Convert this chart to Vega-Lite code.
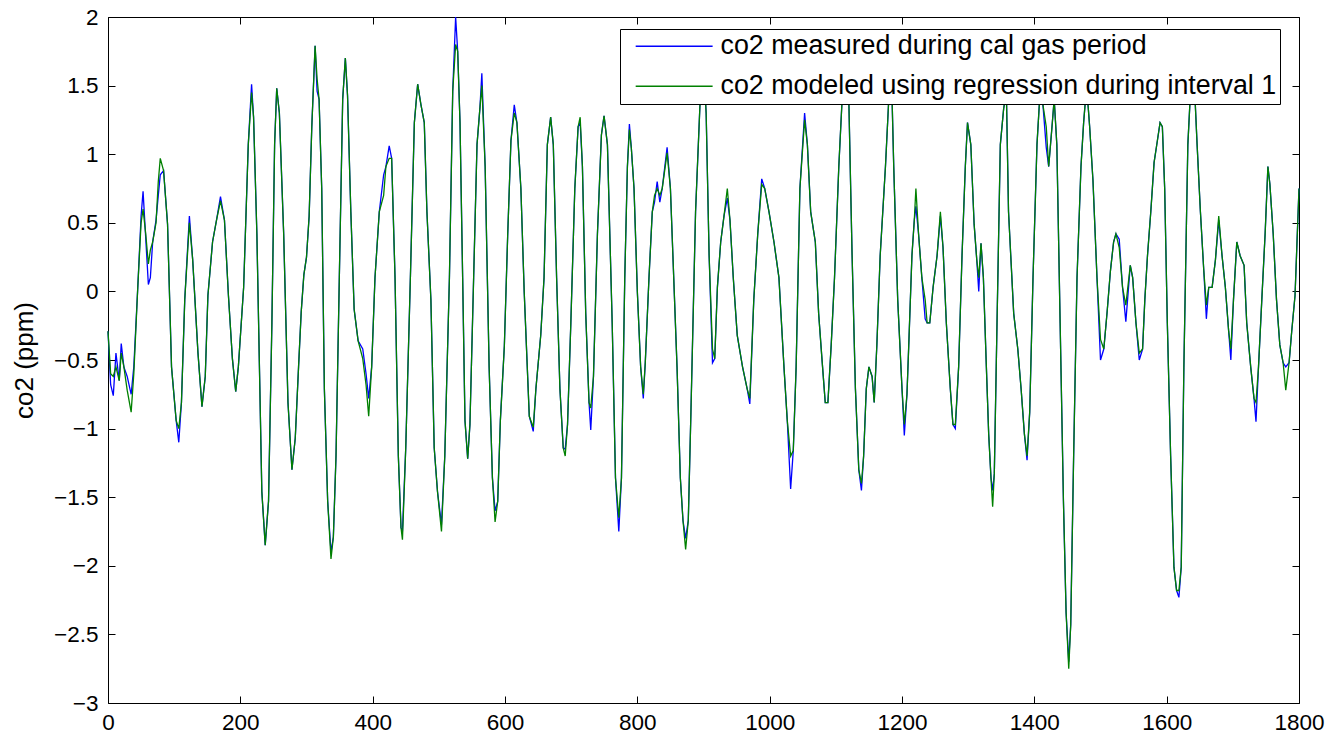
{
"$schema": "https://vega.github.io/schema/vega-lite/v6.json",
"width": 1191, "height": 686,
"autosize": {"type": "none"},
"padding": {"left": 108, "top": 17, "right": 45, "bottom": 41},
"background": "white",
"config": {"view": {"stroke": "#000", "strokeWidth": 1}, "font": "Liberation Sans",
  "axis": {"grid": false, "labelFont": "Liberation Sans", "labelFontSize": 22.5, "labelColor": "#000", "labelFlush": false, "labelOverlap": false, "tickColor": "#000", "tickSize": 7, "tickWidth": 1, "offset": -7, "domain": false, "titleFont": "Liberation Sans", "titleFontSize": 26, "titleFontWeight": "normal", "titleColor": "#000", "format": "~f"}},
"data": {"values": [
{"x":0,"m":-0.29,"g":-0.29},{"x":4,"m":-0.68,"g":-0.6},{"x":8,"m":-0.76,"g":-0.62},{"x":12,"m":-0.45,"g":-0.55},{"x":17,"m":-0.65,"g":-0.65},{"x":20,"m":-0.38,"g":-0.45},{"x":24,"m":-0.55,"g":-0.55},{"x":29,"m":-0.62,"g":-0.72},{"x":35,"m":-0.75,"g":-0.88},{"x":39,"m":-0.55,"g":-0.6},{"x":45,"m":0.03,"g":0.03},{"x":50,"m":0.55,"g":0.5},{"x":53,"m":0.73,"g":0.6},{"x":57,"m":0.39,"g":0.42},{"x":61,"m":0.05,"g":0.2},{"x":64,"m":0.1,"g":0.3},{"x":67.5,"m":0.36,"g":0.36},{"x":72.6,"m":0.52,"g":0.5},{"x":76,"m":0.7,"g":0.8},{"x":79,"m":0.85,"g":0.97},{"x":84,"m":0.88,"g":0.88},{"x":90,"m":0.49,"g":0.49},{"x":96,"m":-0.55,"g":-0.55},{"x":103,"m":-0.94,"g":-0.94},{"x":107,"m":-1.1,"g":-1.0},{"x":111,"m":-0.81,"g":-0.81},{"x":116,"m":-0.06,"g":-0.06},{"x":123,"m":0.55,"g":0.5},{"x":128,"m":0.23,"g":0.23},{"x":136,"m":-0.45,"g":-0.45},{"x":142,"m":-0.84,"g":-0.84},{"x":147,"m":-0.62,"g":-0.62},{"x":151,"m":-0.03,"g":-0.03},{"x":158,"m":0.36,"g":0.36},{"x":164,"m":0.52,"g":0.52},{"x":170,"m":0.69,"g":0.66},{"x":176,"m":0.52,"g":0.52},{"x":182,"m":-0.03,"g":-0.03},{"x":188,"m":-0.49,"g":-0.49},{"x":193,"m":-0.73,"g":-0.73},{"x":197,"m":-0.55,"g":-0.55},{"x":205,"m":0.03,"g":0.03},{"x":212,"m":1.07,"g":1.07},{"x":217,"m":1.51,"g":1.45},{"x":220,"m":1.27,"g":1.27},{"x":225,"m":0.42,"g":0.42},{"x":232.5,"m":-1.46,"g":-1.46},{"x":237.6,"m":-1.85,"g":-1.85},{"x":242.6,"m":-1.53,"g":-1.53},{"x":247.7,"m":-0.23,"g":-0.23},{"x":251.8,"m":1.07,"g":1.07},{"x":255,"m":1.48,"g":1.48},{"x":259,"m":1.3,"g":1.3},{"x":265.5,"m":0.42,"g":0.42},{"x":272,"m":-0.81,"g":-0.81},{"x":278,"m":-1.3,"g":-1.3},{"x":283,"m":-1.07,"g":-1.07},{"x":288,"m":-0.55,"g":-0.55},{"x":292,"m":-0.15,"g":-0.15},{"x":296,"m":0.12,"g":0.12},{"x":300,"m":0.25,"g":0.25},{"x":304,"m":0.55,"g":0.55},{"x":308,"m":1.2,"g":1.2},{"x":313,"m":1.79,"g":1.79},{"x":316,"m":1.46,"g":1.55},{"x":319,"m":1.4,"g":1.4},{"x":323,"m":0.75,"g":0.75},{"x":327,"m":-0.71,"g":-0.71},{"x":332,"m":-1.53,"g":-1.53},{"x":337,"m":-1.9,"g":-1.95},{"x":340.6,"m":-1.79,"g":-1.79},{"x":344.6,"m":-1.2,"g":-1.2},{"x":349.6,"m":0.1,"g":0.1},{"x":354.7,"m":1.4,"g":1.4},{"x":358.7,"m":1.7,"g":1.7},{"x":362,"m":1.43,"g":1.43},{"x":367,"m":0.58,"g":0.58},{"x":372,"m":-0.13,"g":-0.13},{"x":378,"m":-0.36,"g":-0.36},{"x":385,"m":-0.42,"g":-0.49},{"x":390,"m":-0.6,"g":-0.68},{"x":394,"m":-0.78,"g":-0.91},{"x":398.5,"m":-0.55,"g":-0.55},{"x":403.5,"m":0.1,"g":0.1},{"x":410,"m":0.58,"g":0.58},{"x":416.6,"m":0.85,"g":0.7},{"x":420,"m":0.91,"g":0.91},{"x":425,"m":1.06,"g":0.97},{"x":428.7,"m":0.97,"g":0.97},{"x":433.8,"m":0.1,"g":0.1},{"x":438.8,"m":-1.2,"g":-1.2},{"x":442.8,"m":-1.72,"g":-1.72},{"x":445,"m":-1.75,"g":-1.81},{"x":450,"m":-1.14,"g":-1.14},{"x":457,"m":0.1,"g":0.1},{"x":463,"m":1.23,"g":1.23},{"x":468,"m":1.51,"g":1.51},{"x":473,"m":1.36,"g":1.36},{"x":478,"m":1.23,"g":1.23},{"x":482,"m":0.58,"g":0.58},{"x":488,"m":-0.06,"g":-0.06},{"x":493,"m":-1.14,"g":-1.14},{"x":498,"m":-1.46,"g":-1.46},{"x":504,"m":-1.7,"g":-1.75},{"x":509,"m":-1.2,"g":-1.2},{"x":516,"m":0.1,"g":0.1},{"x":521,"m":1.46,"g":1.46},{"x":525.4,"m":2.0,"g":1.8},{"x":528.5,"m":1.75,"g":1.75},{"x":532,"m":1.23,"g":1.23},{"x":536,"m":0.1,"g":0.1},{"x":539.5,"m":-0.94,"g":-0.94},{"x":543.6,"m":-1.22,"g":-1.22},{"x":547,"m":-0.97,"g":-0.97},{"x":552.6,"m":0.1,"g":0.1},{"x":557.7,"m":1.07,"g":1.07},{"x":562,"m":1.33,"g":1.33},{"x":565,"m":1.59,"g":1.5},{"x":570,"m":0.91,"g":0.91},{"x":576,"m":-0.55,"g":-0.55},{"x":581,"m":-1.36,"g":-1.36},{"x":585,"m":-1.6,"g":-1.68},{"x":589,"m":-1.53,"g":-1.53},{"x":593,"m":-0.94,"g":-0.94},{"x":599,"m":-0.4,"g":-0.4},{"x":604,"m":0.4,"g":0.4},{"x":609,"m":1.1,"g":1.1},{"x":614,"m":1.36,"g":1.3},{"x":618,"m":1.23,"g":1.23},{"x":624,"m":0.75,"g":0.75},{"x":629,"m":0.0,"g":0.0},{"x":636.7,"m":-0.91,"g":-0.91},{"x":642.7,"m":-1.02,"g":-0.99},{"x":646.7,"m":-0.71,"g":-0.71},{"x":654,"m":-0.32,"g":-0.32},{"x":659,"m":0.1,"g":0.1},{"x":664,"m":1.07,"g":1.07},{"x":669,"m":1.27,"g":1.27},{"x":673,"m":1.07,"g":1.07},{"x":678,"m":0.1,"g":0.1},{"x":683,"m":-0.71,"g":-0.71},{"x":688,"m":-1.14,"g":-1.14},{"x":691,"m":-1.15,"g":-1.2},{"x":694.5,"m":-0.97,"g":-0.97},{"x":699.5,"m":-0.23,"g":-0.23},{"x":705.5,"m":0.75,"g":0.75},{"x":710.5,"m":1.2,"g":1.2},{"x":713.6,"m":1.23,"g":1.27},{"x":717,"m":0.91,"g":0.91},{"x":722,"m":-0.16,"g":-0.16},{"x":727,"m":-0.81,"g":-0.81},{"x":729.6,"m":-1.01,"g":-0.85},{"x":733.7,"m":-0.62,"g":-0.62},{"x":739.7,"m":0.42,"g":0.42},{"x":745.7,"m":1.14,"g":1.14},{"x":749.7,"m":1.28,"g":1.28},{"x":754.8,"m":1.07,"g":1.07},{"x":762,"m":-0.23,"g":-0.23},{"x":767,"m":-1.36,"g":-1.36},{"x":772,"m":-1.75,"g":-1.65},{"x":776,"m":-1.36,"g":-1.36},{"x":781,"m":0.1,"g":0.1},{"x":785,"m":0.91,"g":0.91},{"x":788,"m":1.22,"g":1.18},{"x":791,"m":1.04,"g":1.04},{"x":795,"m":0.75,"g":0.75},{"x":800,"m":0.0,"g":0.0},{"x":805,"m":-0.55,"g":-0.55},{"x":809,"m":-0.78,"g":-0.75},{"x":812,"m":-0.52,"g":-0.52},{"x":817.6,"m":0.1,"g":0.1},{"x":822.6,"m":0.58,"g":0.58},{"x":826,"m":0.65,"g":0.7},{"x":830,"m":0.8,"g":0.75},{"x":834,"m":0.65,"g":0.7},{"x":837.6,"m":0.75,"g":0.75},{"x":845,"m":1.05,"g":1.01},{"x":850,"m":0.75,"g":0.75},{"x":855,"m":0.1,"g":0.1},{"x":860,"m":-0.55,"g":-0.55},{"x":865,"m":-1.36,"g":-1.36},{"x":869,"m":-1.67,"g":-1.67},{"x":873,"m":-1.8,"g":-1.88},{"x":877,"m":-1.67,"g":-1.67},{"x":881,"m":-0.88,"g":-0.88},{"x":888,"m":0.58,"g":0.58},{"x":895,"m":1.4,"g":1.4},{"x":900,"m":1.65,"g":1.65},{"x":904,"m":1.3,"g":1.3},{"x":908.5,"m":0.26,"g":0.26},{"x":913.6,"m":-0.52,"g":-0.42},{"x":917,"m":-0.49,"g":-0.49},{"x":921,"m":0.03,"g":0.03},{"x":926,"m":0.36,"g":0.36},{"x":931,"m":0.55,"g":0.55},{"x":936,"m":0.68,"g":0.75},{"x":940,"m":0.52,"g":0.52},{"x":945,"m":0.1,"g":0.1},{"x":951,"m":-0.32,"g":-0.32},{"x":959,"m":-0.55,"g":-0.55},{"x":966,"m":-0.71,"g":-0.71},{"x":970,"m":-0.82,"g":-0.78},{"x":976,"m":-0.06,"g":-0.06},{"x":982,"m":0.42,"g":0.42},{"x":988,"m":0.82,"g":0.78},{"x":992.5,"m":0.75,"g":0.75},{"x":999,"m":0.58,"g":0.58},{"x":1006.5,"m":0.36,"g":0.36},{"x":1014,"m":0.1,"g":0.1},{"x":1021.6,"m":-0.55,"g":-0.55},{"x":1026.6,"m":-0.94,"g":-0.94},{"x":1031.7,"m":-1.44,"g":-1.2},{"x":1035.7,"m":-1.16,"g":-1.16},{"x":1040,"m":-0.55,"g":-0.55},{"x":1045.7,"m":0.75,"g":0.75},{"x":1052.8,"m":1.3,"g":1.25},{"x":1057,"m":1.07,"g":1.07},{"x":1062,"m":0.58,"g":0.58},{"x":1069,"m":0.36,"g":0.36},{"x":1074,"m":-0.16,"g":-0.16},{"x":1079,"m":-0.49,"g":-0.49},{"x":1084,"m":-0.81,"g":-0.81},{"x":1088,"m":-0.81,"g":-0.81},{"x":1093,"m":-0.39,"g":-0.39},{"x":1098,"m":0.1,"g":0.1},{"x":1104.5,"m":0.91,"g":0.91},{"x":1109.5,"m":1.4,"g":1.4},{"x":1114,"m":1.7,"g":1.7},{"x":1119.6,"m":1.4,"g":1.4},{"x":1124.6,"m":0.26,"g":0.26},{"x":1129.6,"m":-0.71,"g":-0.71},{"x":1134.7,"m":-1.3,"g":-1.3},{"x":1138.7,"m":-1.45,"g":-1.4},{"x":1142,"m":-1.2,"g":-1.2},{"x":1146,"m":-0.71,"g":-0.71},{"x":1150,"m":-0.55,"g":-0.55},{"x":1154.8,"m":-0.62,"g":-0.62},{"x":1158,"m":-0.81,"g":-0.81},{"x":1162,"m":-0.39,"g":-0.39},{"x":1167,"m":0.26,"g":0.26},{"x":1175,"m":0.91,"g":0.91},{"x":1180,"m":1.4,"g":1.4},{"x":1184,"m":1.6,"g":1.6},{"x":1187.5,"m":0.91,"g":0.91},{"x":1193.5,"m":-0.06,"g":-0.06},{"x":1200,"m":-0.71,"g":-0.71},{"x":1203.5,"m":-1.05,"g":-0.97},{"x":1207.5,"m":-0.75,"g":-0.75},{"x":1210,"m":-0.42,"g":-0.42},{"x":1215,"m":0.26,"g":0.26},{"x":1218.6,"m":0.52,"g":0.52},{"x":1221,"m":0.62,"g":0.75},{"x":1225,"m":0.42,"g":0.42},{"x":1230,"m":0.1,"g":0.1},{"x":1235,"m":-0.2,"g":-0.06},{"x":1238,"m":-0.23,"g":-0.23},{"x":1242,"m":-0.23,"g":-0.23},{"x":1247,"m":0.03,"g":0.03},{"x":1253,"m":0.26,"g":0.26},{"x":1258,"m":0.55,"g":0.58},{"x":1262,"m":0.32,"g":0.32},{"x":1267,"m":-0.23,"g":-0.23},{"x":1273,"m":-0.71,"g":-0.71},{"x":1277,"m":-0.97,"g":-0.97},{"x":1280.6,"m":-1.0,"g":-0.97},{"x":1285.6,"m":-0.55,"g":-0.55},{"x":1290.7,"m":0.26,"g":0.26},{"x":1295.7,"m":0.91,"g":0.91},{"x":1299,"m":1.23,"g":1.23},{"x":1304,"m":1.07,"g":1.07},{"x":1309,"m":0.49,"g":0.49},{"x":1313,"m":0.23,"g":0.23},{"x":1316,"m":0.0,"g":0.1},{"x":1319.4,"m":0.35,"g":0.35},{"x":1323,"m":0.1,"g":0.1},{"x":1327.5,"m":-0.55,"g":-0.55},{"x":1331,"m":-1.04,"g":-1.04},{"x":1334.5,"m":-1.36,"g":-1.36},{"x":1337,"m":-1.45,"g":-1.57},{"x":1339.5,"m":-1.33,"g":-1.33},{"x":1343.6,"m":-0.23,"g":-0.23},{"x":1348.6,"m":1.07,"g":1.07},{"x":1353.6,"m":1.33,"g":1.33},{"x":1357.7,"m":1.46,"g":1.46},{"x":1361,"m":0.58,"g":0.58},{"x":1368.8,"m":-0.16,"g":-0.16},{"x":1375,"m":-0.42,"g":-0.42},{"x":1380,"m":-0.71,"g":-0.71},{"x":1385,"m":-1.04,"g":-1.04},{"x":1389,"m":-1.23,"g":-1.2},{"x":1393,"m":-0.88,"g":-0.88},{"x":1398,"m":0.1,"g":0.1},{"x":1404,"m":1.07,"g":1.07},{"x":1408,"m":1.4,"g":1.4},{"x":1413,"m":1.36,"g":1.36},{"x":1418,"m":1.05,"g":1.2},{"x":1421.7,"m":0.91,"g":0.91},{"x":1426.7,"m":1.2,"g":1.2},{"x":1430,"m":1.4,"g":1.4},{"x":1434,"m":1.07,"g":1.07},{"x":1439,"m":-0.23,"g":-0.23},{"x":1444,"m":-1.53,"g":-1.53},{"x":1448,"m":-2.34,"g":-2.34},{"x":1452,"m":-2.7,"g":-2.75},{"x":1455,"m":-2.43,"g":-2.43},{"x":1459.4,"m":-1.2,"g":-1.2},{"x":1464.5,"m":0.1,"g":0.1},{"x":1470.5,"m":0.91,"g":0.91},{"x":1474.5,"m":1.23,"g":1.23},{"x":1479,"m":1.5,"g":1.5},{"x":1483.6,"m":1.2,"g":1.2},{"x":1488.6,"m":0.81,"g":0.81},{"x":1494.7,"m":0.1,"g":0.1},{"x":1500,"m":-0.5,"g":-0.35},{"x":1505,"m":-0.42,"g":-0.42},{"x":1510,"m":-0.15,"g":-0.15},{"x":1515,"m":0.15,"g":0.15},{"x":1519.8,"m":0.36,"g":0.36},{"x":1523.3,"m":0.42,"g":0.42},{"x":1528.3,"m":0.38,"g":0.32},{"x":1533.3,"m":0.03,"g":0.03},{"x":1538.3,"m":-0.22,"g":-0.1},{"x":1545,"m":0.19,"g":0.19},{"x":1548.6,"m":0.1,"g":0.1},{"x":1553.6,"m":-0.23,"g":-0.23},{"x":1558.6,"m":-0.5,"g":-0.45},{"x":1563.6,"m":-0.42,"g":-0.42},{"x":1567,"m":-0.06,"g":-0.06},{"x":1571,"m":0.26,"g":0.26},{"x":1576,"m":0.58,"g":0.58},{"x":1581,"m":0.94,"g":0.94},{"x":1586,"m":1.1,"g":1.1},{"x":1590,"m":1.23,"g":1.23},{"x":1593.5,"m":1.2,"g":1.2},{"x":1597,"m":0.75,"g":0.75},{"x":1601,"m":-0.23,"g":-0.23},{"x":1606,"m":-1.2,"g":-1.2},{"x":1611,"m":-2.01,"g":-2.01},{"x":1615,"m":-2.18,"g":-2.18},{"x":1618.5,"m":-2.23,"g":-2.18},{"x":1622,"m":-2.01,"g":-2.01},{"x":1626,"m":-0.55,"g":-0.55},{"x":1632,"m":1.07,"g":1.07},{"x":1637,"m":1.55,"g":1.55},{"x":1642,"m":1.5,"g":1.5},{"x":1646,"m":1.07,"g":1.07},{"x":1651,"m":0.58,"g":0.58},{"x":1656,"m":0.16,"g":0.16},{"x":1660,"m":-0.2,"g":-0.1},{"x":1663.6,"m":0.03,"g":0.03},{"x":1668.7,"m":0.03,"g":0.03},{"x":1673.7,"m":0.23,"g":0.23},{"x":1678.7,"m":0.52,"g":0.55},{"x":1683.7,"m":0.26,"g":0.26},{"x":1688.7,"m":0.03,"g":0.03},{"x":1693.7,"m":-0.29,"g":-0.29},{"x":1697,"m":-0.5,"g":-0.42},{"x":1701,"m":-0.06,"g":-0.06},{"x":1706,"m":0.36,"g":0.36},{"x":1711,"m":0.26,"g":0.26},{"x":1717,"m":0.19,"g":0.19},{"x":1721,"m":-0.23,"g":-0.23},{"x":1727,"m":-0.55,"g":-0.55},{"x":1732,"m":-0.78,"g":-0.78},{"x":1735,"m":-0.95,"g":-0.81},{"x":1738.8,"m":-0.55,"g":-0.55},{"x":1743.8,"m":-0.06,"g":-0.06},{"x":1748.8,"m":0.42,"g":0.42},{"x":1753,"m":0.91,"g":0.91},{"x":1756,"m":0.78,"g":0.78},{"x":1761,"m":0.42,"g":0.42},{"x":1766,"m":-0.06,"g":-0.06},{"x":1771,"m":-0.39,"g":-0.39},{"x":1776,"m":-0.52,"g":-0.52},{"x":1780,"m":-0.55,"g":-0.72},{"x":1785,"m":-0.52,"g":-0.52},{"x":1789,"m":-0.29,"g":-0.29},{"x":1794,"m":-0.03,"g":-0.03},{"x":1796,"m":0.23,"g":0.23},{"x":1800,"m":0.75,"g":0.75}
]},
"transform": [{"fold": ["m", "g"], "as": ["series", "co2"]}],
"layer": [
  {"mark": {"type": "line", "strokeWidth": 1.3},
   "encoding": {
     "x": {"field": "x", "type": "quantitative", "scale": {"domain": [0, 1800], "nice": false, "zero": false},
       "axis": {"orient": "bottom", "values": [0,200,400,600,800,1000,1200,1400,1600,1800], "title": null, "labelPadding": 8}},
     "y": {"field": "co2", "type": "quantitative", "scale": {"domain": [-3, 2], "nice": false, "zero": false},
       "axis": {"orient": "left", "values": [-3,-2.5,-2,-1.5,-1,-0.5,0,0.5,1,1.5,2], "title": "co2 (ppm)", "labelPadding": 10, "titlePadding": 16}},
     "color": {"field": "series", "type": "nominal", "sort": ["m", "g"],
       "scale": {"domain": ["m", "g"], "range": ["#0000ff", "#008000"]},
       "legend": {"orient": "none", "legendX": 512, "legendY": 12, "title": null, "fillColor": "white", "strokeColor": "#000",
         "padding": 3.75, "symbolOffset": 37, "symbolType": "M-4,0H4", "symbolSize": 370, "symbolStrokeWidth": 1.5,
         "labelFont": "Liberation Sans", "labelFontSize": 26.8, "labelColor": "#000", "labelLimit": 1000, "labelOffset": 33, "rowPadding": 12.2,
         "labelExpr": "datum.value == 'm' ? 'co2 measured during cal gas period' : 'co2 modeled using regression during interval 1'"}}
   }},
  {"mark": {"type": "line", "opacity": 0},
   "encoding": {
     "x": {"field": "x", "type": "quantitative", "scale": {"domain": [0, 1800], "nice": false, "zero": false},
       "axis": {"orient": "top", "values": [0,200,400,600,800,1000,1200,1400,1600,1800], "labels": false, "title": null}},
     "y": {"field": "co2", "type": "quantitative", "scale": {"domain": [-3, 2], "nice": false, "zero": false},
       "axis": {"orient": "right", "values": [-3,-2.5,-2,-1.5,-1,-0.5,0,0.5,1,1.5,2], "labels": false, "title": null}},
     "detail": {"field": "series"}
   }}
],
"resolve": {"axis": {"x": "independent", "y": "independent"}}
}
